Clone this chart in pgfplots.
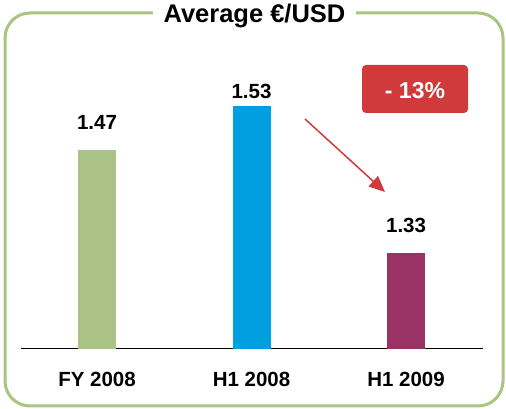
\documentclass[border=0pt]{standalone}
\usepackage{fontspec}
\setmainfont{Liberation Sans}
\usepackage{pgfplots}
\pgfplotsset{compat=1.18}
\usetikzlibrary{arrows.meta}
\definecolor{bordergreen}{HTML}{A9C57F}
\definecolor{bargreen}{HTML}{ABC386}
\definecolor{barblue}{HTML}{009FDF}
\definecolor{barpurple}{HTML}{993366}
\definecolor{boxred}{HTML}{D03A3A}
\newcommand{\lbl}{\fontsize{20.5}{24}\selectfont\bfseries}
\begin{document}
\begin{tikzpicture}
\useasboundingbox (0pt,0pt) rectangle (506pt,409pt);
\draw[rounded corners=25pt, line width=3pt, bordergreen] (5pt,3pt) rectangle (503pt,396pt);
\node[anchor=base, fill=white, inner xsep=11pt, inner ysep=2pt] at (254.5pt,386pt) {\fontsize{25.5}{30}\selectfont\bfseries Average €/USD};
\begin{axis}[
  at={(21pt,60pt)}, anchor=south west,
  scale only axis, width=462pt, height=309pt,
  xmin=-0.492, xmax=2.498, ymin=1.2, ymax=1.62,
  axis x line=bottom, axis y line=none,
  x axis line style={-, black, line width=1pt},
  xtick={0,1,2}, xticklabels={FY 2008, H1 2008, H1 2009},
  major tick length=0pt,
  xticklabel style={anchor=base, yshift=-38pt, font=\lbl},
  ybar=0pt, bar width=38pt, bar shift=0pt,
  clip=false,
]
\addplot[fill=bargreen, draw=none] coordinates {(0,1.47)};
\addplot[fill=barblue, draw=none] coordinates {(1,1.53)};
\addplot[fill=barpurple, draw=none] coordinates {(2,1.33)};
\node[anchor=base, yshift=21pt, font=\lbl] at (axis cs:0,1.47) {1.47};
\node[anchor=base, yshift=8pt, font=\lbl] at (axis cs:1,1.53) {1.53};
\node[anchor=base, yshift=21pt, font=\lbl] at (axis cs:2,1.33) {1.33};
\end{axis}
\fill[boxred, rounded corners=4pt] (362pt,296pt) rectangle (468pt,344pt);
\node[anchor=base, text=white] at (415pt,310pt) {\fontsize{23}{28}\selectfont\bfseries - 13\%};
\draw[boxred, line width=1.5pt, -{Triangle[length=16pt,width=14pt]}] (305pt,290pt) -- (385pt,217pt);
\end{tikzpicture}
\end{document}
